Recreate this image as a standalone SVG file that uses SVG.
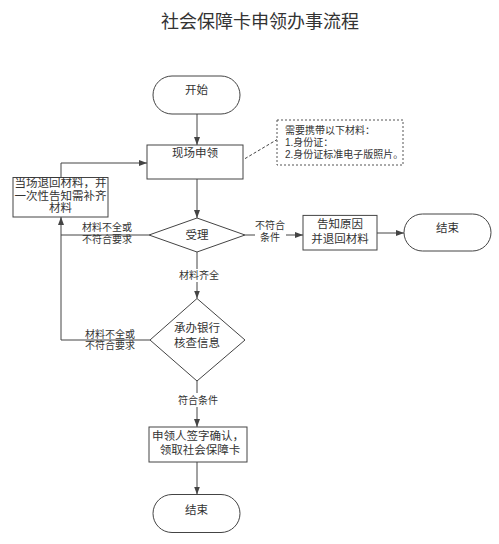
<svg xmlns="http://www.w3.org/2000/svg" width="499" height="544" viewBox="0 0 499 544">
<style>
  text { font-family: "Liberation Sans", "Noto Sans CJK SC", sans-serif; fill: #333; }
  .t { font-size: 11.5px; text-anchor: middle; dominant-baseline: central; }
  .lbl { font-size: 10px; text-anchor: middle; dominant-baseline: central; }
  .note { font-size: 10px; dominant-baseline: central; }
  .title { font-size: 18px; text-anchor: middle; }
  .box { fill: #fff; stroke: #444; stroke-width: 1; }
  .c { fill: none; stroke: #444; stroke-width: 1; }
  .arr { marker-end: url(#ah); }
  .bg { fill: #fff; }
</style>
<defs>
  <marker id="ah" markerUnits="userSpaceOnUse" markerWidth="8" markerHeight="6" refX="8" refY="3" orient="auto">
    <path d="M0,0 L8,3 L0,6 z" fill="#444"/>
  </marker>
</defs>
<rect width="499" height="544" fill="#fff"/>
<text class="title" x="260" y="28">社会保障卡申领办事流程</text>

<g id="connectors">
  <path class="c arr" d="M197,114 V145"/>
  <path class="c arr" d="M197,179 V218"/>
  <path class="c arr" d="M149,235 H61 V217"/>
  <path class="c arr" d="M61,177.5 V163 H147"/>
  <path class="c" d="M150,340 H61 V235"/>
  <path class="c arr" d="M197,252 V298.5"/>
  <path class="c arr" d="M245,235 H303"/>
  <path class="c arr" d="M377,233 H404"/>
  <path class="c arr" d="M197,381 V427"/>
  <path class="c arr" d="M197,462 V494.5"/>
  <path class="c" d="M245,158.6 L277,139.6" stroke-dasharray="3,2"/>
  <rect class="bg" x="178" y="269" width="42" height="13"/>
  <text class="lbl" x="199" y="275.8">材料齐全</text>
  <rect class="bg" x="255" y="220" width="31" height="24"/>
  <text class="lbl" x="270" y="225.8">不符合</text>
  <text class="lbl" x="270" y="237.8">条件</text>
  <text class="lbl" x="107" y="227.5">材料不全或</text>
  <text class="lbl" x="107" y="239">不符合要求</text>
  <text class="lbl" x="110" y="334.4">材料不全或</text>
  <text class="lbl" x="110" y="345.7">不符合要求</text>
  <rect class="bg" x="177" y="393" width="42" height="14"/>
  <text class="lbl" x="198" y="400">符合条件</text>
</g>

<g id="start">
  <rect class="box" x="153" y="76" width="87" height="38" rx="19" ry="19"/>
  <text class="t" x="196.5" y="90">开始</text>
</g>
<g id="apply">
  <rect class="box" x="147" y="145" width="96" height="34"/>
  <text class="t" x="195" y="153">现场申领</text>
</g>
<g id="note">
  <rect x="277" y="120" width="126" height="45" fill="#fff" stroke="#555" stroke-width="1" stroke-dasharray="2,2"/>
  <text class="note" x="285" y="130">需要携带以下材料：</text>
  <text class="note" x="285" y="142">1.身份证：</text>
  <text class="note" x="285" y="154">2.身份证标准电子版照片。</text>
</g>
<g id="return">
  <rect class="box" x="13" y="177.5" width="95" height="39.5"/>
  <text class="t" x="60.5" y="183">当场退回材料，并</text>
  <text class="t" x="60.5" y="196">一次性告知需补齐</text>
  <text class="t" x="60.5" y="208">材料</text>
</g>
<g id="accept">
  <polygon class="box" points="149,235 197,218 245,235 197,252"/>
  <text class="t" x="197" y="235">受理</text>
</g>
<g id="inform">
  <rect class="box" x="303" y="215.4" width="74" height="34.6"/>
  <text class="t" x="340" y="224">告知原因</text>
  <text class="t" x="340" y="238.5">并退回材料</text>
</g>
<g id="end1">
  <rect class="box" x="404" y="214" width="87" height="37" rx="18.5" ry="18.5"/>
  <text class="t" x="447.5" y="227.5">结束</text>
</g>
<g id="bank">
  <polygon class="box" points="150,340 197,298.5 245,340 197,381"/>
  <text class="t" x="197" y="327.5">承办银行</text>
  <text class="t" x="197" y="343">核查信息</text>
</g>
<g id="sign">
  <rect class="box" x="149" y="427" width="98" height="35"/>
  <text class="t" x="198" y="436">申领人签字确认，</text>
  <text class="t" x="200" y="450">领取社会保障卡</text>
</g>
<g id="end2">
  <rect class="box" x="153" y="494.5" width="87" height="38" rx="19" ry="19"/>
  <text class="t" x="196.5" y="509.5">结束</text>
</g>
</svg>
